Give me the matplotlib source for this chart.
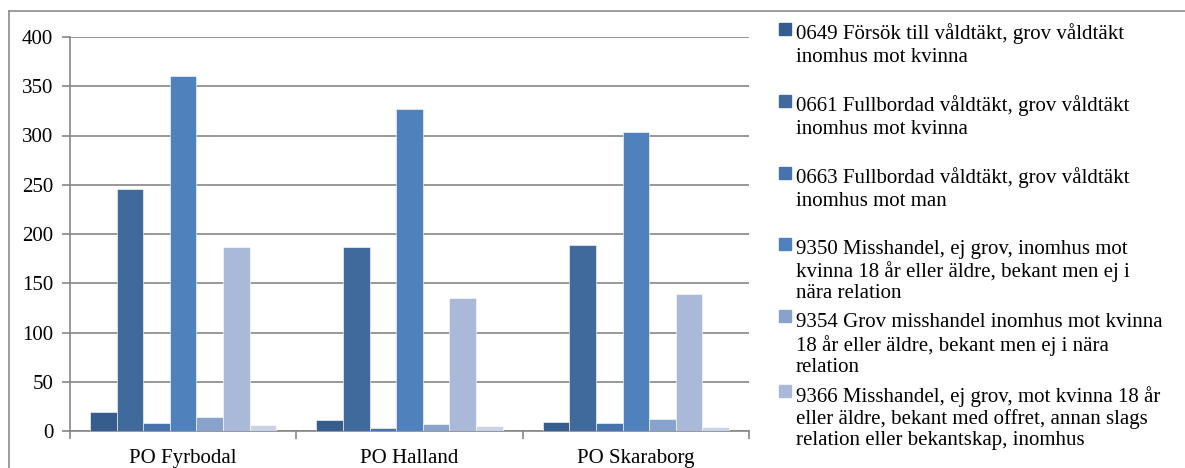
import matplotlib
matplotlib.use("Agg")
import matplotlib.pyplot as plt
import numpy as np
from matplotlib.patches import Rectangle
from matplotlib.lines import Line2D

plt.rcParams['font.family'] = ['Liberation Serif', 'DejaVu Serif']

# data
regions = ['PO Fyrbodal', 'PO Halland', 'PO Skaraborg']
s0649 = [19, 11, 9]
s0661 = [246, 187, 189]
s0663 = [8, 3, 8]
s9350 = [360, 327, 304]
s9354 = [14, 7, 12]
s9366 = [187, 135, 139]
s_last = [6, 5, 4]   # seventh series, its legend entry is cut off

series = [s0649, s0661, s0663, s9350, s9354, s9366, s_last]
labels = [
    '0649 Försök till våldtäkt, grov våldtäkt\ninomhus mot kvinna',
    '0661 Fullbordad våldtäkt, grov våldtäkt\ninomhus mot kvinna',
    '0663 Fullbordad våldtäkt, grov våldtäkt\ninomhus mot man',
    '9350 Misshandel, ej grov, inomhus mot\nkvinna 18 år eller äldre, bekant men ej i\nnära relation',
    '9354 Grov misshandel inomhus mot kvinna\n18 år eller äldre, bekant men ej i nära\nrelation',
    '9366 Misshandel, ej grov, mot kvinna 18 år\neller äldre, bekant med offret, annan slags\nrelation eller bekantskap, inomhus',
]
colors = ['#365D8D', '#416A9C', '#4673AB', '#4F81BD', '#88A2CC', '#AAB9D7', '#C9D3E7']

W, H = 1185, 468
FS = 15
fig = plt.figure(figsize=(W / 100, H / 100), dpi=100)

# outer chart border (left + top only visible)
fig.add_artist(Line2D([9 / W, 9 / W], [0, 1 - 11 / H], color='#8C8C8C', lw=1.2))
fig.add_artist(Line2D([9 / W, 1], [1 - 11 / H, 1 - 11 / H], color='#8C8C8C', lw=1.2))

ax = fig.add_axes([70 / W, 1 - 431 / H, 679 / W, 394 / H])

n = len(series)
bw = 1 / (n + 1.5)
x = np.arange(len(regions))
for i, vals in enumerate(series):
    off = (i - (n - 1) / 2) * bw
    ax.bar(x + off, vals, bw, color=colors[i], edgecolor='#FFFFFF', linewidth=0.4,
           zorder=3)

ax.set_xlim(-0.5, len(regions) - 0.5)
ax.set_ylim(0, 400)
ax.set_yticks(range(0, 401, 50))
ax.yaxis.grid(True, color='#868686', linewidth=1.2, zorder=0)
ax.set_axisbelow(True)

# category labels between separator ticks
ax.set_xticks(np.arange(-0.5, len(regions), 1.0))
ax.set_xticklabels([])
ax.set_xticks(x, minor=True)
ax.set_xticklabels(regions, minor=True, fontsize=FS)
ax.tick_params(axis='x', which='minor', length=0, pad=13)
ax.tick_params(axis='x', which='major', length=6, color='#868686', width=1.2)
ax.tick_params(axis='y', length=6, color='#868686', width=1.2, labelsize=FS, pad=6)

for side in ['top', 'right']:
    ax.spines[side].set_visible(False)
for side in ['left', 'bottom']:
    ax.spines[side].set_color('#868686')
    ax.spines[side].set_linewidth(1.2)

# legend drawn by hand to keep the wrapped Excel look
# baselines of the first line of every entry, in pixels from the top
baselines = [36, 108, 180, 251, 323, 398]
spacing = [1.23, 1.23, 1.23, 1.13, 1.18, 1.13]
px_per_pt = 100 / 72
for lab, col, yb, ls in zip(labels, colors[:6], baselines, spacing):
    fig.add_artist(Rectangle((779 / W, 1 - (yb - 1) / H), 12 / W, 12 / H,
                             transform=fig.transFigure, color=col))
    nlines = lab.count('\n') + 1
    y_last = yb + (nlines - 1) * ls * FS * px_per_pt
    fig.text(796 / W, 1 - y_last / H, lab, fontsize=FS, va='baseline', ha='left',
             linespacing=ls)

fig.savefig('out.png', dpi=100)
